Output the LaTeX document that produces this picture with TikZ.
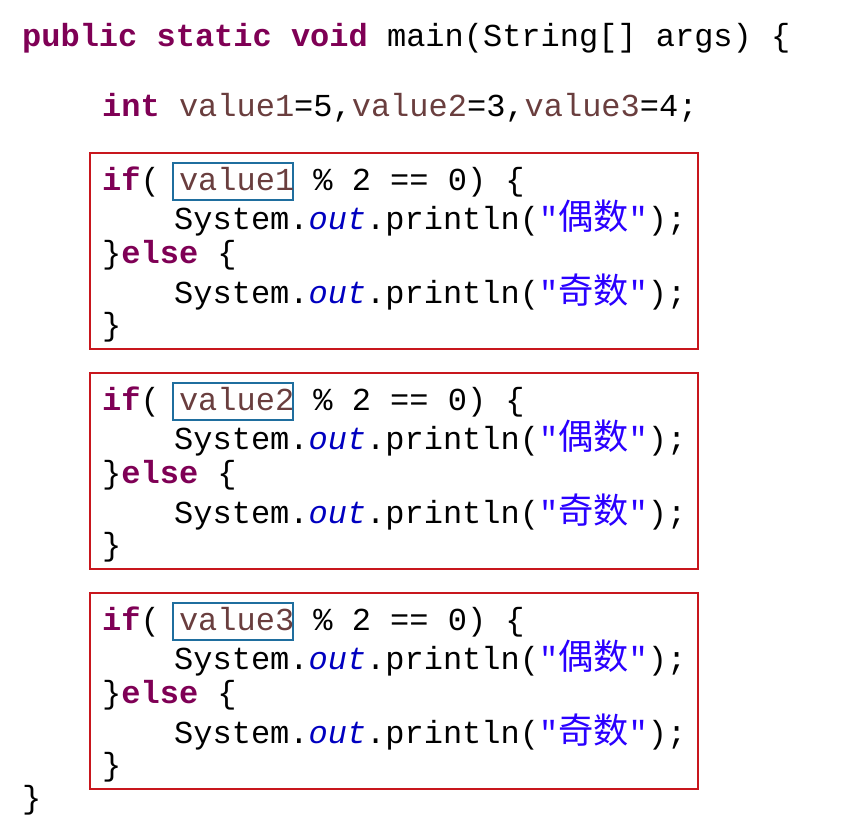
\documentclass[tikz,border=0pt]{standalone}
\usepackage{fontspec}
\setmonofont{Liberation Mono}
\newfontfamily\cjk[Scale=1.1]{Noto Sans CJK SC}
\definecolor{kw}{HTML}{7F0055}
\definecolor{fld}{HTML}{0000C0}
\definecolor{str}{HTML}{2A00FF}
\definecolor{var}{HTML}{6A3E3E}
\definecolor{redbox}{HTML}{C8161D}
\definecolor{bluebox}{HTML}{1F6E9E}
\newcommand{\kwd}[1]{\textcolor{kw}{\textbf{#1}}}
\newcommand{\fldt}[1]{\textcolor{fld}{\textit{#1}}}
\newcommand{\vart}[1]{\textcolor{var}{#1}}
\newcommand{\strt}[1]{\textcolor{str}{"{\cjk #1}"}}
\begin{document}
\begin{tikzpicture}[x=1pt,y=-1pt,
  code/.style={anchor=west,inner sep=0pt,font=\ttfamily\fontsize{32}{32}\selectfont},
  block/.style={draw=redbox,line width=2.2pt},
  vbox/.style={draw=bluebox,line width=2pt}]
\useasboundingbox[fill=white] (0,0) rectangle (844,838);
\node[code] (l0) at (22,38) {\kwd{public} \kwd{static} \kwd{void} main(String[] args) \{};
\node[code] (l1) at (102,108) {\kwd{int} \vart{value1}=5,\vart{value2}=3,\vart{value3}=4;};
\foreach \n/\y in {1/0,2/220,3/440}{
  \begin{scope}[yshift=-\y pt]
  \draw[block] (90,153) rectangle (698,349);
  \draw[vbox] (173,163) rectangle (293,200);
  \node[code] (if\n) at (102,182) {\kwd{if}( \vart{value\n} \% 2 == 0) \{};
  \node[code] (p\n) at (174,218) {System.\fldt{out}.println(\strt{偶数});};
  \node[code] (e\n) at (102,255) {\}\kwd{else} \{};
  \node[code] (q\n) at (174,292) {System.\fldt{out}.println(\strt{奇数});};
  \node[code] (c\n) at (102,327) {\}};
  \end{scope}
}
\node[code] (end) at (22,800) {\}};
\end{tikzpicture}
\end{document}
